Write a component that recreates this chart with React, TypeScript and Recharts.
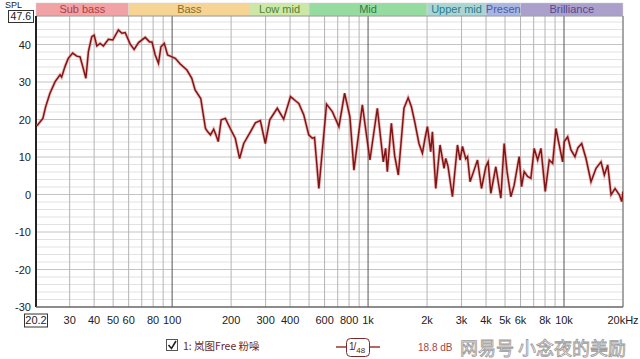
import { LineChart, Line, XAxis, YAxis, ReferenceLine, ReferenceArea } from 'recharts';

// frequency (Hz) and SPL (dB)
const freqs = [
  20.4, 21.9, 22.6, 23.8, 25.3, 26.8, 27.3, 28.4, 29.5, 31.1, 32.6, 33.9, 35.0, 36.3, 37.4, 38.9, 40.0, 41.3, 42.9, 44.6,
  47.3, 49.8, 53.2, 55.4, 57.6, 61.1, 64.0, 67.4, 72.9, 76.7, 78.9, 82.0, 85.2, 87.7, 91.2, 94.8, 99.8, 103.8, 110, 119,
  126, 131, 140, 148, 152, 157, 163, 167, 172, 178, 187, 198, 210, 221, 232, 251, 266, 282, 299, 315,
  344, 371, 402, 426, 443, 470, 498, 519, 533, 561, 614, 657, 710, 759, 808, 847, 935, 1022, 1115, 1196,
  1229, 1254, 1315, 1367, 1427, 1525, 1602, 1664, 1730, 1819, 1894, 1953, 2009, 2088, 2130, 2215, 2330, 2442, 2491, 2559,
  2695, 2859, 2948, 3033, 3153, 3217, 3316, 3476, 3618, 3792, 3990, 4100, 4232, 4487, 4760, 4949, 5126, 5354, 5567, 5905,
  6073, 6262, 6518, 6776, 7043, 7335, 7626, 8022, 8407, 8750, 9095, 9454, 9840, 10030, 10437, 10850, 11374, 11783, 12310, 12947,
  13733, 14568, 15447, 16060, 16715, 17378, 18213, 19160, 19705, 20000,
];
const spl = [
  18.3, 20.3, 23.3, 27.0, 30.1, 31.9, 31.3, 34.1, 36.3, 37.7, 36.9, 36.7, 34.1, 31.0, 38.1, 42.1, 42.5, 39.6, 40.3, 39.6,
  41.4, 41.2, 43.9, 43.0, 43.2, 40.1, 38.7, 40.5, 41.9, 40.7, 40.7, 37.2, 35.0, 39.4, 40.3, 37.2, 36.7, 36.3, 34.8, 33.2,
  31.0, 27.9, 25.6, 17.6, 16.7, 15.9, 17.4, 16.0, 14.1, 19.9, 20.3, 17.6, 15.0, 9.6, 13.6, 16.7, 19.1, 19.7, 13.6, 19.9,
  23.0, 20.1, 26.1, 25.0, 24.3, 21.2, 15.9, 15.0, 15.2, 1.6, 24.1, 22.1, 18.1, 27.0, 20.7, 6.5, 23.9, 9.2, 23.0, 8.7,
  12.3, 6.1, 19.0, 10.3, 5.2, 23.0, 25.8, 23.4, 19.4, 13.6, 11.0, 15.0, 18.1, 11.4, 16.7, 1.6, 13.2, 7.0, 9.6, 7.5,
  -0.6, 13.2, 9.2, 12.8, 9.5, 10.1, 3.4, 6.5, 9.2, 1.6, 7.4, 8.7, 0.3, 7.4, -1.0, 13.6, 6.0, -0.6, 2.5, 10.1,
  2.1, 6.1, 4.8, 4.3, 12.3, 9.2, 12.3, 0.8, 9.2, 8.3, 17.6, 13.2, 8.7, 14.1, 15.4, 11.9, 10.1, 12.5, 13.6, 9.6,
  3.4, 7.0, 8.7, 5.2, 7.9, -0.1, 1.6, -0.1, -1.9, 0.8,
];

const xTicks = [20.2, 30, 40, 50, 60, 80, 100, 200, 300, 400, 600, 800, 1000, 2000, 3000, 4000, 5000, 6000, 8000, 10000, 20000];
const xTickLabels = ['20.2', '30', '40', '50', '60', '80', '100', '200', '300', '400', '600', '800', '1k', '2k', '3k', '4k', '5k', '6k', '8k', '10k', '20kHz'];
const yTicks = [-30, -20, -10, 0, 10, 20, 30, 40, 47.6];

const gridFreqs = [
  30, 40, 50, 60, 70, 80, 90, 100, 200, 300, 400, 500, 600, 700, 800, 900, 1000,
  2000, 3000, 4000, 5000, 6000, 7000, 8000, 9000, 10000,
];
const gridDb = [-28, -26, -24, -22, -20, -18, -16, -14, -12, -10, -8, -6, -4, -2, 0, 2, 4, 6, 8, 10, 12, 14, 16, 18, 20, 22, 24, 26, 28, 30, 32, 34, 36, 38, 40, 42, 44, 46];

const bandNames = ['Sub bass', 'Bass', 'Low mid', 'Mid', 'Upper mid', 'Presen', 'Brilliance'];
const bandEdges = [20.2, 60, 250, 500, 2000, 4000, 6000, 20000];
const bandFills = ['#f0a2a4', '#f6d594', '#cde7a4', '#96dba0', '#a9d5d3', '#aab6e2', '#ab9fcb'];
const bandText = ['#b23c44', '#8c6c24', '#4d8434', '#2f7c44', '#2c7c8c', '#4a5aa6', '#544a8e'];

const data = freqs.map((f, i) => ({ f, spl: spl[i] }));
const font = '"Liberation Sans", Arial, sans-serif';

const XTick = (props: any) => {
  const { x, y, index } = props;
  const label = xTickLabels[index];
  return (
    <g>
      {index === 0 && <rect x={x - 11.5} y={y - 1} width={23} height={13} fill="#fff" stroke="#333" />}
      <text x={x} y={y + 9} textAnchor="middle" fontSize={11} fontFamily={font} fill="#222">
        {label}
      </text>
    </g>
  );
};

const YTick = (props: any) => {
  const { x, y, payload } = props;
  const top = payload.value === 47.6;
  return (
    <g>
      {top && <rect x={x - 19.5} y={y - 5.5} width={25} height={12} fill="#fff" stroke="#333" />}
      <text x={x + 3} y={y + 4} textAnchor="end" fontSize={top ? 10.5 : 11} fontFamily={font} fill="#222">
        {payload.value}
      </text>
    </g>
  );
};

export default function App() {
  return (
    <div style={{ position: 'absolute', left: 0, top: 0, width: 640, height: 359, background: '#fff' }}>
      <LineChart width={640} height={359} data={data} margin={{ top: 16, right: 17, bottom: 22, left: 0 }}>
        <XAxis
          dataKey="f"
          type="number"
          scale="log"
          domain={[20.2, 20000]}
          ticks={xTicks}
          tick={<XTick />}
          tickLine={false}
          axisLine={{ stroke: '#666' }}
          height={30}
          allowDataOverflow
          interval={0}
        />
        <YAxis
          type="number"
          domain={[-30, 47.6]}
          ticks={yTicks}
          tick={<YTick />}
          tickLine={false}
          axisLine={false}
          width={36}
          allowDataOverflow
          interval={0}
        />
        {gridDb.map((v) => (
          <ReferenceLine key={'h' + v} y={v} stroke={v % 10 === 0 ? '#c4c4c4' : '#e2e2e2'} strokeWidth={1} />
        ))}
        {gridFreqs.map((f) => (
          <ReferenceLine
            key={'v' + f}
            x={f}
            stroke={f === 100 || f === 1000 || f === 10000 ? '#555' : '#b4b4b4'}
            strokeWidth={1}
          />
        ))}
        <ReferenceLine x={20000} stroke="#888" strokeWidth={1.5} />
        <ReferenceLine y={47.6} stroke="#999" />
        <ReferenceLine y={-30} stroke="#666" />
        <ReferenceLine x={20.2} stroke="#222" strokeWidth={2} />
        {bandNames.map((name, i) => (
          <ReferenceArea
            key={name}
            x1={bandEdges[i]}
            x2={bandEdges[i + 1]}
            y1={47.6}
            y2={51.1}
            ifOverflow="visible"
            fill={bandFills[i]}
            fillOpacity={1}
            stroke="#d8d8d8"
            strokeWidth={0.5}
            label={{ value: name, position: 'center', fill: bandText[i], fontSize: 11, fontFamily: font }}
          />
        ))}
        <Line
          dataKey="spl"
          type="linear"
          stroke="#e46c6c"
          strokeOpacity={0.45}
          strokeWidth={3.2}
          dot={false}
          isAnimationActive={false}
        />
        <Line dataKey="spl" type="linear" stroke="#7e1616" strokeWidth={1.5} dot={false} isAnimationActive={false} />
      </LineChart>
      <svg width={640} height={359} style={{ position: 'absolute', left: 0, top: 0, pointerEvents: 'none' }}>
        <text x={5} y={8} fontSize={9} fontFamily={font} fill="#222">SPL</text>
        <rect x={166.5} y={339.5} width={11} height={11} fill="#fff" stroke="#555" />
        <path d="M168.5 345 L171.5 348.5 L176 341" fill="none" stroke="#222" strokeWidth={1.6} />
        <text x={183} y={350} fontSize={10.5} fontFamily={'"Noto Sans CJK SC", ' + font} fill="#6c2a2a">
          1: 岚图Free 粉噪
        </text>
        <line x1={336} y1={347} x2={380} y2={347} stroke="#a03434" strokeWidth={1.5} />
        <rect x={346.5} y={338.5} width={23} height={18} rx={4} fill="#fff" stroke="#7a2a2a" />
        <text x={349} y={350} fontSize={10} fontFamily={font} fill="#5a2020">
          1<tspan dx={-1}>/</tspan>
          <tspan fontSize={8} dy={3}>48</tspan>
        </text>
        <text x={418} y={351} fontSize={10} fontFamily={font} fill="#a04848">18.8 dB</text>
        <text
          x={460}
          y={355}
          fontSize={18}
          fontFamily={'"Noto Sans CJK SC", sans-serif'}
          fill="#fff"
          stroke="#9a9a9a"
          strokeWidth={0.8}
        >
          网易号 小念夜的美励
        </text>
      </svg>
    </div>
  );
}
